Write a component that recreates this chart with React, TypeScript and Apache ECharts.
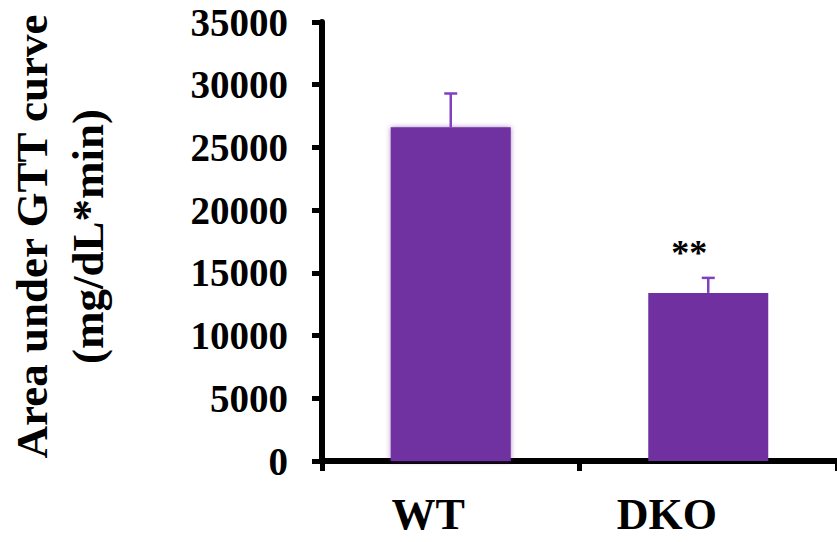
import React, { useEffect, useRef } from "react";
import * as echarts from "echarts";

const categories = ["WT", "DKO"];
const meanValues = [26600, 13400];
const upperValues = [29300, 14600];
const yTicks = { min: 0, max: 35000, interval: 5000 };
const significance = ["", "**"];

const BAR = "#7030A0";
const ERR = "#8040C0";
const SERIF = "'Liberation Serif', 'Times New Roman', serif";

export default function App() {
  const ref = useRef<HTMLDivElement>(null);
  useEffect(() => {
    if (!ref.current) return;
    const chart = echarts.init(ref.current, undefined, { renderer: "svg" });
    chart.setOption({
      animation: false,
      backgroundColor: "#ffffff",
      grid: {
        left: 322,
        top: 22,
        right: 0,
        bottom: 81,
        containLabel: false,
        outerBoundsMode: "none",
      },
      xAxis: {
        type: "category",
        data: categories,
        axisLine: { show: true, lineStyle: { color: "#000", width: 6 } },
        axisTick: { show: true, length: 10, lineStyle: { color: "#000", width: 5 } },
        axisLabel: {
          margin: 31,
          formatter: (v: string) => (v === "WT" ? `{w|${v}}` : `{d|${v}}`),
          rich: {
            w: { fontFamily: SERIF, fontWeight: "bold", fontSize: 44, color: "#000", padding: [0, 45, 0, 0] },
            d: { fontFamily: SERIF, fontWeight: "bold", fontSize: 44, color: "#000", padding: [0, 83, 0, 0] },
          },
        },
        splitLine: { show: false },
      },
      yAxis: {
        type: "value",
        min: yTicks.min,
        max: yTicks.max,
        interval: yTicks.interval,
        name: "Area under GTT curve\n(mg/dL*min)",
        nameLocation: "middle",
        nameRotate: 90,
        nameGap: 206,
        nameTextStyle: {
          fontFamily: SERIF,
          fontWeight: "bold",
          fontSize: 45,
          lineHeight: 56,
          color: "#000",
          padding: [0, 0, 0, 10],
        },
        axisLine: { show: true, lineStyle: { color: "#000", width: 6 } },
        axisTick: { show: true, length: 10, lineStyle: { color: "#000", width: 5 } },
        axisLabel: {
          margin: 34,
          fontFamily: SERIF,
          fontWeight: "bold",
          fontSize: 39,
          color: "#000",
          formatter: (v: number) => String(v),
        },
        splitLine: { show: false },
      },
      series: [
        {
          type: "bar",
          barWidth: 120,
          data: meanValues.map((v, i) => ({
            value: v,
            itemStyle:
              i === 0
                ? { color: BAR, shadowBlur: 5, shadowColor: "rgba(112,48,160,0.6)" }
                : { color: BAR },
            label: significance[i]
              ? {
                  show: true,
                  position: "top",
                  distance: 22,
                  offset: [-19, 0],
                  formatter: significance[i],
                  fontFamily: SERIF,
                  fontWeight: "bold",
                  fontSize: 36,
                  color: "#000",
                }
              : { show: false },
          })),
          z: 2,
        },
        {
          type: "custom",
          z: 3,
          data: meanValues.map((v, i) => [i, v, upperValues[i]]),
          renderItem: (params: any, api: any) => {
            const i = api.value(0);
            const bot = api.coord([i, api.value(1)]);
            const top = api.coord([i, api.value(2)]);
            const style = { stroke: ERR, lineWidth: 2.5 };
            return {
              type: "group",
              children: [
                { type: "line", shape: { x1: top[0], y1: top[1], x2: bot[0], y2: bot[1] }, style },
                { type: "line", shape: { x1: top[0] - 6.5, y1: top[1], x2: top[0] + 6.5, y2: top[1] }, style },
              ],
            };
          },
        },
      ],
    });
    return () => chart.dispose();
  }, []);
  return (
    <div
      ref={ref}
      style={{ position: "fixed", left: 0, top: 0, width: 837, height: 542 }}
    />
  );
}
